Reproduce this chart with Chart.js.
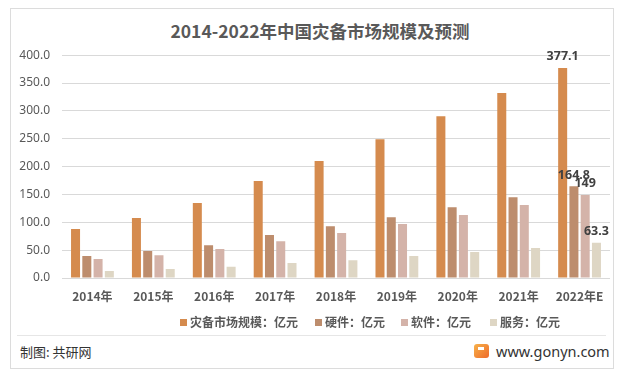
<!DOCTYPE html>
<html>
<head>
<meta charset="utf-8">
<script src="https://cdn.jsdelivr.net/npm/chart.js@4"></script>
<style>
  html, body { margin:0; padding:0; background:#fff; width:626px; height:376px; overflow:hidden; }
  body { position:relative; font-family:"Noto Sans CJK SC","Noto Sans",sans-serif; }
  #frame { position:absolute; left:10px; top:8px; width:604px; height:361px; border:1px solid #dcdcdc; box-sizing:border-box; }
  #title { position:absolute; left:0; width:640px; top:19px; text-align:center; font-size:17.5px; font-weight:bold; color:#595959; line-height:24px; }
  #wrap { position:absolute; left:0; top:36px; width:626px; height:280px; }
  #legend { position:absolute; top:313px; left:0; width:626px; height:18px; font-size:12px; font-weight:bold; color:#595959; }
  .li { position:absolute; top:0; line-height:18px; white-space:nowrap; }
  .sw { display:inline-block; width:7px; height:7px; margin-right:3px; vertical-align:1px; }
  #sep { position:absolute; left:17px; top:335px; width:589px; height:1px; background:#e6e6e6; }
  #src { position:absolute; left:20px; top:343px; font-size:13px; color:#333; line-height:18px; }
  #site { position:absolute; left:496px; top:341px; font-size:14.5px; color:#333; line-height:20px; font-family:"Noto Sans","DejaVu Sans",sans-serif; }
  #icon { position:absolute; left:474px; top:344px; width:15px; height:14px; border-radius:3px; background:linear-gradient(135deg,#f7b24a,#ee6a2a); }
  #icon:after { content:""; position:absolute; left:4px; top:3px; width:6px; height:3px; background:#fff; }
</style>
</head>
<body>
<div id="frame"></div>
<div id="title">2014-2022年中国灾备市场规模及预测</div>
<div id="wrap"><canvas id="c" width="626" height="280"></canvas></div>
<div id="legend"></div>
<div id="sep"></div>
<div id="src">制图: 共研网</div>
<div id="icon"></div>
<div id="site">www.gonyn.com</div>
<script>
const categories = ["2014年","2015年","2016年","2017年","2018年","2019年","2020年","2021年","2022年E"];
const seriesNames = ["灾备市场规模：亿元","硬件：亿元","软件：亿元","服务：亿元"];
const marketSize = [88, 107.6, 134.5, 174, 210, 249, 290.6, 332, 377.1];
const hardware   = [39.5, 48.4, 59, 77, 93, 109, 127, 145, 164.8];
const software   = [34, 41, 52, 66, 80.7, 97, 113, 131, 149];
const services   = [12.6, 16, 20, 27, 32, 39.5, 46.6, 53.8, 63.3];
const yTicks = [0, 50, 100, 150, 200, 250, 300, 350, 400];
const colors = ["#d58b4e", "#bd8d6d", "#d4b3a9", "#ded6c4"];
const labelledIndex = 8;

const seriesData = [marketSize, hardware, software, services];

const labelPlugin = {
  id: 'lastLabels',
  afterDatasetsDraw(chart) {
    const ctx = chart.ctx;
    ctx.save();
    ctx.font = 'bold 12.5px "Noto Sans","DejaVu Sans",sans-serif';
    ctx.fillStyle = '#404040';
    ctx.textAlign = 'center';
    ctx.textBaseline = 'bottom';
    chart.data.datasets.forEach((ds, i) => {
      const el = chart.getDatasetMeta(i).data[labelledIndex];
      if (!el) return;
      ctx.fillText(String(ds.data[labelledIndex]), el.x, el.y - 5);
    });
    ctx.restore();
  }
};

new Chart(document.getElementById('c'), {
  type: 'bar',
  data: {
    labels: categories,
    datasets: seriesData.map((d, i) => ({
      label: seriesNames[i],
      data: d,
      backgroundColor: colors[i],
      borderWidth: 0,
      categoryPercentage: 0.74,
      barPercentage: 0.8
    }))
  },
  options: {
    responsive: false,
    animation: false,
    layout: { padding: { left: 10, right: 16, top: 10, bottom: 0 } },
    plugins: { legend: { display: false }, tooltip: { enabled: false } },
    scales: {
      x: {
        grid: { display: false },
        border: { display: false },
        ticks: { color: '#595959', padding: 3, font: { size: 12, weight: 'bold', family: '"Noto Sans CJK SC","Noto Sans",sans-serif' } },
        afterFit(s) { s.height = 38; }
      },
      y: {
        min: 0, max: 400,
        afterBuildTicks(s) { s.ticks = yTicks.map(v => ({ value: v })); },
        grid: { color: '#d9d9d9', drawTicks: false, lineWidth: 1 },
        border: { display: false },
        ticks: {
          color: '#595959', padding: 12,
          font: { size: 12, family: '"Noto Sans","DejaVu Sans",sans-serif' },
          callback: v => Number(v).toFixed(1)
        },
        afterFit(s) { s.width = 52; }
      }
    }
  },
  plugins: [labelPlugin]
});

const legendPos = [180, 315, 401, 490];
const lg = document.getElementById('legend');
seriesNames.forEach((n, i) => {
  const d = document.createElement('div');
  d.className = 'li';
  d.style.left = legendPos[i] + 'px';
  d.innerHTML = '<span class="sw" style="background:' + colors[i] + '"></span>' + n;
  lg.appendChild(d);
});
</script>
</body>
</html>
